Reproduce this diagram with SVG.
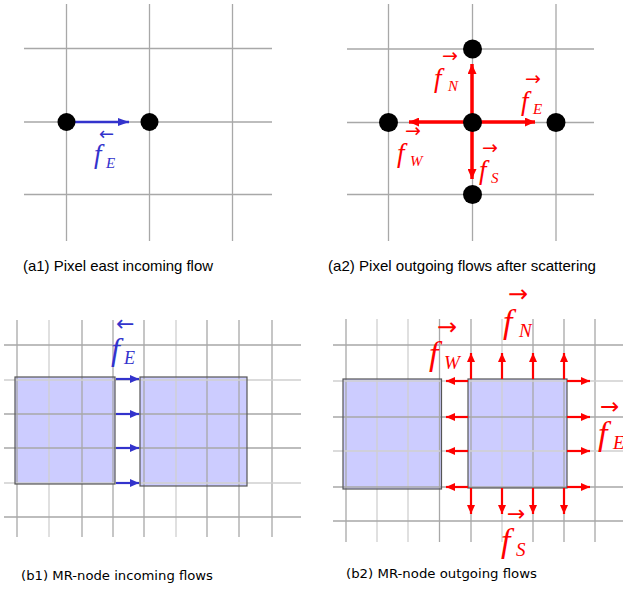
<svg xmlns="http://www.w3.org/2000/svg" width="623" height="590" viewBox="0 0 623 590">
<style>
.g{stroke:#a8a8a8;stroke-width:1.3;fill:none}
.gl{stroke:#d0d0d0;stroke-width:1.3;fill:none}
.dot{fill:#000}
.blk{fill:#ccccff;stroke:none}
.blko{fill:none;stroke:#555;stroke-width:1.2}
.ab{stroke:#3333cc;stroke-width:2.5;fill:none}
.ar{stroke:#ff0000;stroke-width:3.5;fill:none}
.ar2{stroke:#ff0000;stroke-width:2.2;fill:none}
.ab2{stroke:#3333cc;stroke-width:2.2;fill:none}
.mb{fill:#3333cc;font-family:"Liberation Serif","DejaVu Serif",serif;font-style:italic}
.mr{fill:#ff0000;font-family:"Liberation Serif","DejaVu Serif",serif;font-style:italic}
.vec{font-style:normal;font-family:"DejaVu Sans",sans-serif}
.cap{font-family:"Liberation Sans",Arial,sans-serif;font-size:15px;fill:#000}
.capb{font-family:"DejaVu Sans",sans-serif;font-size:13px;fill:#000}
</style>
<defs>
<marker id="hb" markerUnits="userSpaceOnUse" markerWidth="11" markerHeight="8" refX="11" refY="4" orient="auto"><path d="M0,0 L11,4 L0,8 z" fill="#3333cc"/></marker>
<marker id="hr" markerUnits="userSpaceOnUse" markerWidth="10" markerHeight="9" refX="10" refY="4.5" orient="auto"><path d="M0,0 L10,4.5 L0,9 z" fill="#ff0000"/></marker>
<marker id="hr2" markerUnits="userSpaceOnUse" markerWidth="9" markerHeight="8" refX="9" refY="4" orient="auto"><path d="M0,0 L9,4 L0,8 z" fill="#ff0000"/></marker>
<marker id="hb2" markerUnits="userSpaceOnUse" markerWidth="9" markerHeight="8" refX="9" refY="4" orient="auto"><path d="M0,0 L9,4 L0,8 z" fill="#3333cc"/></marker>
</defs>

<!-- Panel a1 grid -->
<g id="grid-a1" class="g">
<path d="M66.5,4V241M149.5,4V241M232.5,4V241M24,48.5H272M24,122H272M24,194.5H272"/>
</g>
<!-- Panel a2 grid -->
<g id="grid-a2" class="g">
<path d="M388.5,4V241M472.5,4V241M556,4V241M347,49H594M347,122.5H594M347,194.5H594"/>
</g>
<!-- Panel b1 -->
<g id="blocks-b1">
<rect class="blk" x="15" y="377" width="100" height="107"/>
<rect class="blk" x="140" y="377" width="107" height="109"/>
</g>
<g id="grid-b1">
<path class="g" d="M17,320V537M82,320V537M113,320V537M144,320V537M207,320V537M239,320V537M272,320V537"/>
<path class="gl" d="M49,320V537M176,320V537"/>
<path class="g" d="M4,345H301M4,414H301M4,448H301M4,517H301"/>
<path class="gl" d="M4,380H301M4,483H301"/>
</g>
<g id="blocks-b1-outline">
<rect class="blko" x="15" y="377" width="100" height="107"/>
<rect class="blko" x="140" y="377" width="107" height="109"/>
</g>
<!-- Panel b2 -->
<g id="blocks-b2">
<rect class="blk" x="343" y="379" width="98.5" height="110"/>
<rect class="blk" x="468" y="379" width="99" height="109"/>
</g>
<g id="grid-b2">
<path class="g" d="M346,319V542M439.5,319V542M471,319V542M533,319V542M564,319V542M595,319V542"/>
<path class="gl" d="M377,319V542M408,319V542M502,319V542"/>
<path class="g" d="M333,345H623M333,417H623M333,487H623M333,521H623"/>
<path class="gl" d="M333,381H623M333,451H623"/>
</g>
<g id="blocks-b2-outline">
<rect class="blko" x="343" y="379" width="98.5" height="110"/>
<rect class="blko" x="468" y="379" width="99" height="109"/>
</g>

<!-- connectors -->
<g id="connectors">
<line class="ab" x1="75" y1="122" x2="129" y2="122" marker-end="url(#hb)"/>
<line class="ar" x1="472" y1="122" x2="472" y2="64" marker-end="url(#hr)"/>
<line class="ar" x1="472" y1="122" x2="535" y2="122" marker-end="url(#hr)"/>
<line class="ar" x1="472" y1="122" x2="409" y2="122" marker-end="url(#hr)"/>
<line class="ar" x1="472" y1="122" x2="472" y2="179" marker-end="url(#hr)"/>
<g class="ab2">
<line x1="116" y1="379" x2="139" y2="379" marker-end="url(#hb2)"/>
<line x1="116" y1="414" x2="139" y2="414" marker-end="url(#hb2)"/>
<line x1="116" y1="448" x2="139" y2="448" marker-end="url(#hb2)"/>
<line x1="116" y1="483" x2="139" y2="483" marker-end="url(#hb2)"/>
</g>
<g class="ar2">
<line x1="471" y1="379" x2="471" y2="353" marker-end="url(#hr2)"/>
<line x1="502" y1="379" x2="502" y2="353" marker-end="url(#hr2)"/>
<line x1="533" y1="379" x2="533" y2="353" marker-end="url(#hr2)"/>
<line x1="564" y1="379" x2="564" y2="353" marker-end="url(#hr2)"/>
<line x1="471" y1="488" x2="471" y2="514" marker-end="url(#hr2)"/>
<line x1="502" y1="488" x2="502" y2="514" marker-end="url(#hr2)"/>
<line x1="533" y1="488" x2="533" y2="514" marker-end="url(#hr2)"/>
<line x1="564" y1="488" x2="564" y2="514" marker-end="url(#hr2)"/>
<line x1="468" y1="381" x2="446" y2="381" marker-end="url(#hr2)"/>
<line x1="468" y1="417" x2="446" y2="417" marker-end="url(#hr2)"/>
<line x1="468" y1="451" x2="446" y2="451" marker-end="url(#hr2)"/>
<line x1="468" y1="487" x2="446" y2="487" marker-end="url(#hr2)"/>
<line x1="567" y1="381" x2="590" y2="381" marker-end="url(#hr2)"/>
<line x1="567" y1="417" x2="590" y2="417" marker-end="url(#hr2)"/>
<line x1="567" y1="451" x2="590" y2="451" marker-end="url(#hr2)"/>
<line x1="567" y1="487" x2="590" y2="487" marker-end="url(#hr2)"/>
</g>
</g>

<!-- nodes -->
<g id="node-a1-west"><circle class="dot" cx="66.5" cy="122" r="9"/></g>
<g id="node-a1-east"><circle class="dot" cx="149.5" cy="122" r="9"/></g>
<g id="node-a2-north"><circle class="dot" cx="472.5" cy="49" r="9.5"/></g>
<g id="node-a2-west"><circle class="dot" cx="388.5" cy="122.5" r="9.5"/></g>
<g id="node-a2-center"><circle class="dot" cx="472.5" cy="122.5" r="9.5"/></g>
<g id="node-a2-east"><circle class="dot" cx="556" cy="122.5" r="9.5"/></g>
<g id="node-a2-south"><circle class="dot" cx="472.5" cy="194.5" r="9.5"/></g>

<!-- labels -->
<g id="label-a1-fE" class="mb">
<text class="vec" x="99" y="140" font-size="18">←</text>
<text x="94" y="163" font-size="27">f</text>
<text x="106" y="168" font-size="15">E</text>
</g>
<g id="label-a2-fN" class="mr">
<text class="vec" x="442" y="62" font-size="19">→</text>
<text x="434" y="87" font-size="27">f</text>
<text x="448" y="91" font-size="15">N</text>
</g>
<g id="label-a2-fE" class="mr">
<text class="vec" x="525" y="85" font-size="19">→</text>
<text x="521" y="110" font-size="27">f</text>
<text x="533" y="114" font-size="15">E</text>
</g>
<g id="label-a2-fW" class="mr">
<text class="vec" x="405" y="137" font-size="19">→</text>
<text x="397" y="162" font-size="27">f</text>
<text x="410" y="166" font-size="15">W</text>
</g>
<g id="label-a2-fS" class="mr">
<text class="vec" x="482" y="154" font-size="19">→</text>
<text x="479" y="179" font-size="27">f</text>
<text x="491" y="183" font-size="15">S</text>
</g>
<g id="label-b1-fE" class="mb">
<text class="vec" x="116" y="331" font-size="22">←</text>
<text x="111" y="360" font-size="32">f</text>
<text x="124" y="364" font-size="18">E</text>
</g>
<g id="label-b2-fN" class="mr">
<text class="vec" x="508" y="302" font-size="24">→</text>
<text x="503" y="333" font-size="34">f</text>
<text x="519" y="337" font-size="19">N</text>
</g>
<g id="label-b2-fW" class="mr">
<text class="vec" x="437" y="335" font-size="24">→</text>
<text x="429" y="365" font-size="34">f</text>
<text x="444" y="369" font-size="19">W</text>
</g>
<g id="label-b2-fE" class="mr">
<text class="vec" x="600" y="414" font-size="23">→</text>
<text x="598" y="445" font-size="34">f</text>
<text x="613" y="449" font-size="19">E</text>
</g>
<g id="label-b2-fS" class="mr">
<text class="vec" x="507" y="521" font-size="22">→</text>
<text x="501" y="552" font-size="34">f</text>
<text x="516" y="556" font-size="19">S</text>
</g>

<!-- captions -->
<g id="captions">
<text class="cap" x="23" y="271" textLength="190" lengthAdjust="spacingAndGlyphs">(a1) Pixel east incoming flow</text>
<text class="cap" x="328" y="271" textLength="268" lengthAdjust="spacingAndGlyphs">(a2) Pixel outgoing flows after scattering</text>
<text class="capb" x="21" y="580" textLength="192" lengthAdjust="spacingAndGlyphs">(b1) MR-node incoming flows</text>
<text class="capb" x="346" y="578" textLength="191" lengthAdjust="spacingAndGlyphs">(b2) MR-node outgoing flows</text>
</g>
</svg>
